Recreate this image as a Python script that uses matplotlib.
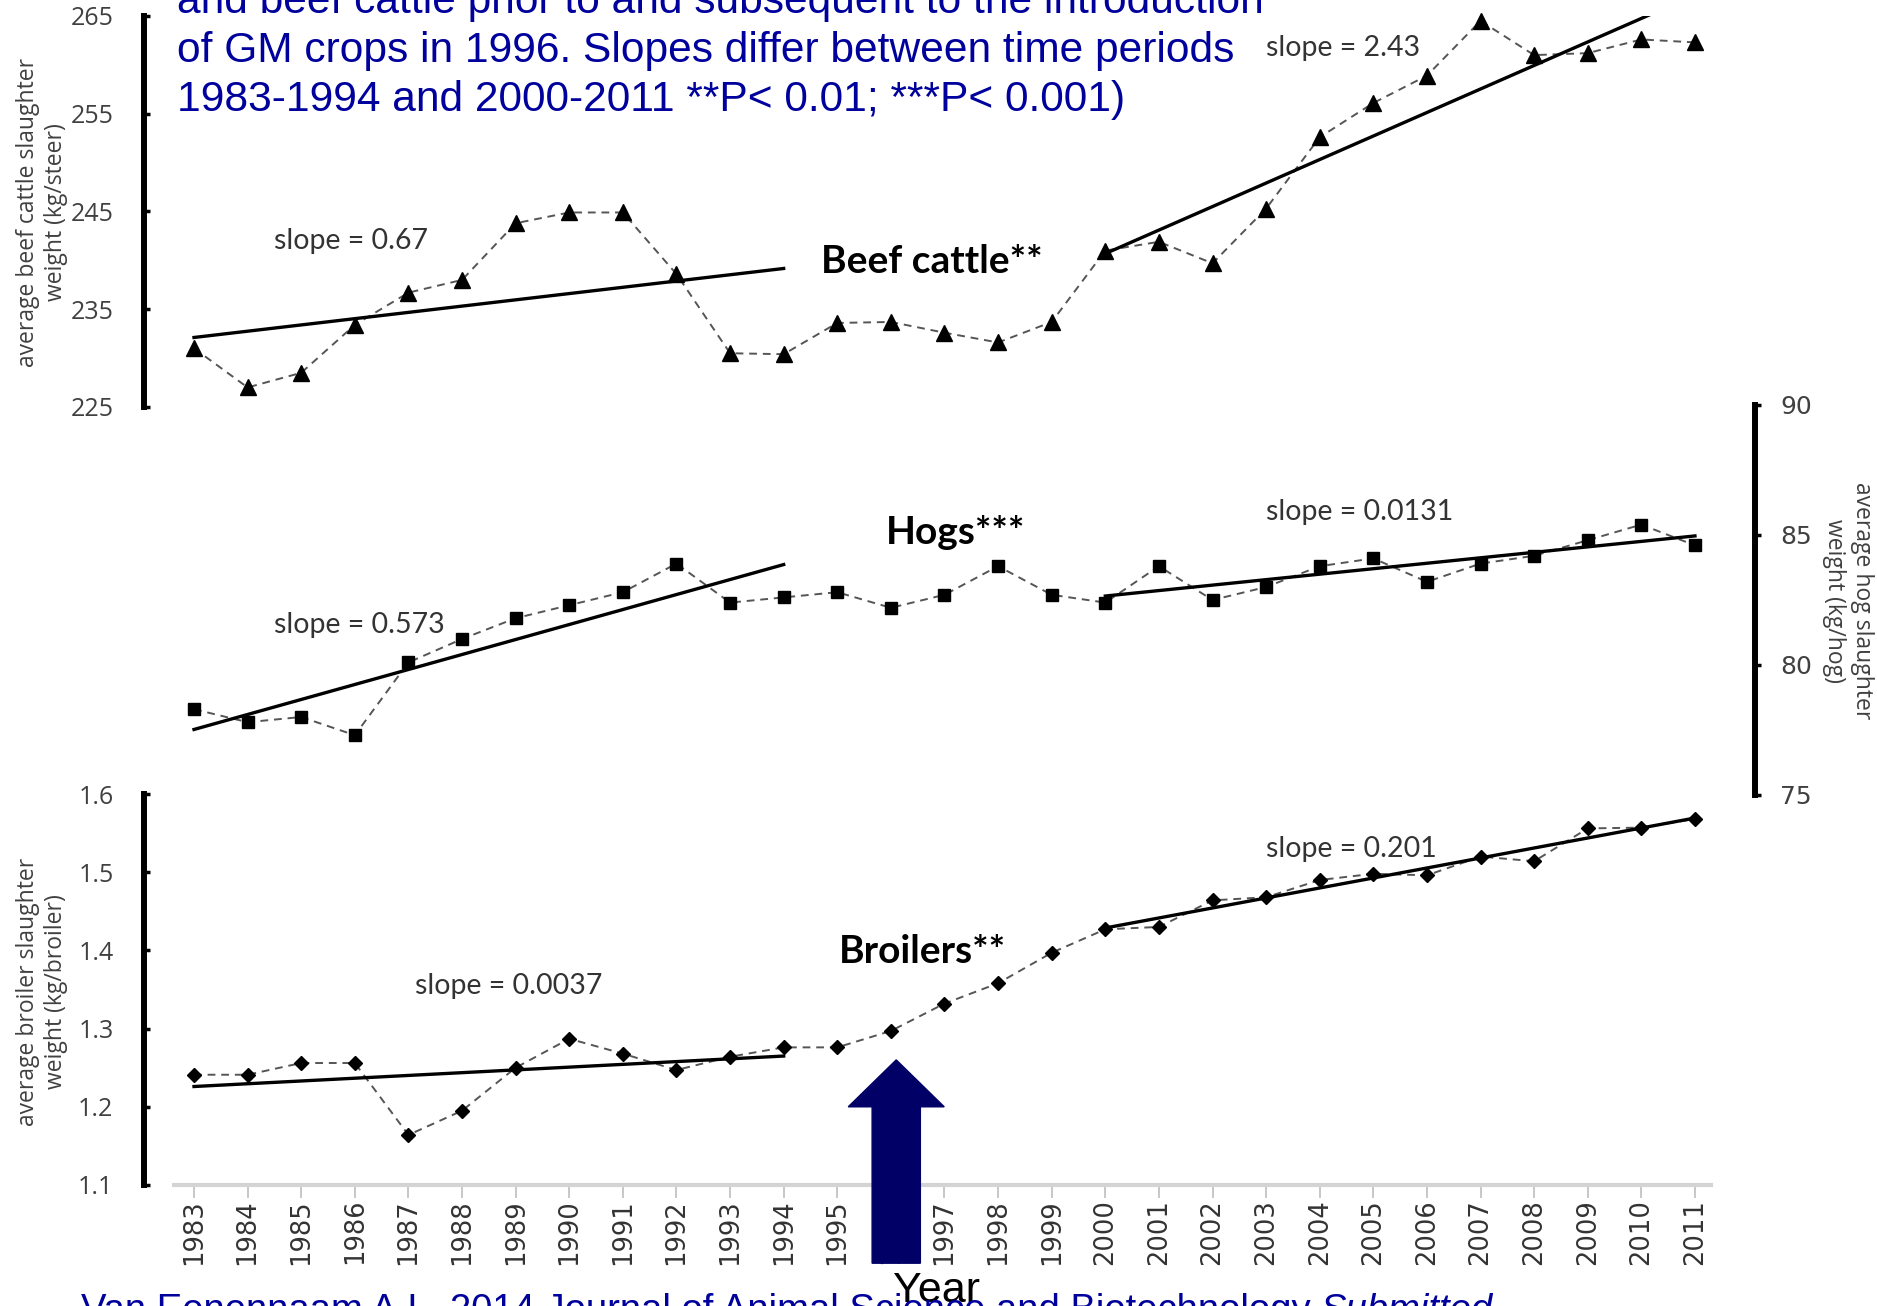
import numpy as np
import matplotlib
matplotlib.use('Agg')
import matplotlib.pyplot as plt
import matplotlib.transforms as mtransforms
from matplotlib.patches import FancyArrow

years = list(range(1983, 2012))
beef = [231.0, 227.0, 228.5, 233.4, 236.7, 238.0, 243.8, 244.9, 244.9, 238.6,
        230.5, 230.4, 233.6, 233.7, 232.6, 231.6, 233.7, 241.0, 241.9, 239.7,
        245.3, 252.6, 256.1, 258.9, 264.5, 261.0, 261.2, 262.6, 262.3]
hogs = [78.3, 77.8, 78.0, 77.3, 80.1, 81.0, 81.8, 82.3, 82.8, 83.9,
        82.4, 82.6, 82.8, 82.2, 82.7, 83.8, 82.7, 82.4, 83.8, 82.5,
        83.0, 83.8, 84.1, 83.2, 83.9, 84.2, 84.8, 85.4, 84.6]
broilers = [1.241, 1.241, 1.256, 1.256, 1.164, 1.195, 1.250, 1.287, 1.268, 1.247,
            1.264, 1.276, 1.276, 1.297, 1.332, 1.358, 1.397, 1.427, 1.430, 1.464,
            1.468, 1.490, 1.498, 1.496, 1.520, 1.514, 1.556, 1.557, 1.568]
periods = [(1983, 1994), (2000, 2011)]

beef_slopes = ['slope = 0.67', 'slope = 2.43']
hog_slopes = ['slope = 0.573', 'slope = 0.0131']
broiler_slopes = ['slope = 0.0037', 'slope = 0.201']

title_lines = ['and beef cattle prior to and subsequent to the introduction',
               'of GM crops in 1996. Slopes differ between time periods',
               '1983-1994 and 2000-2011 **P< 0.01; ***P< 0.001)']
source = 'Van Eenennaam A.L. 2014 Journal of Animal Science and Biotechnology '

NAVY = '#00009c'
TXT = '#404040'
sans = ['Liberation Sans', 'DejaVu Sans']
labfont = ['Open Sans', 'DejaVu Sans']
annfont = ['Lato', 'DejaVu Sans']

fig = plt.figure(figsize=(18.77, 13.06), dpi=100)
L, W = 144 / 1877, 1611 / 1877
ax_b = fig.add_axes([L, 1 - 407 / 1306, W, 391 / 1306])
ax_h = fig.add_axes([L, 1 - 795 / 1306, W, 390 / 1306])
ax_c = fig.add_axes([L, 1 - 1185 / 1306, W, 391 / 1306])


def panel(ax, values, marker, ms, ylim, ticks):
    ax.set_facecolor('none')
    ax.plot(years, values, ls=(0, (4, 3)), color='#555555', lw=1.4, zorder=2)
    ax.plot(years, values, ls='none', marker=marker, ms=ms, color='black',
            clip_on=False, zorder=3)
    # linear trend for each period
    for a, b in periods:
        xs = [y for y in years if a <= y <= b]
        vs = [v for y, v in zip(years, values) if a <= y <= b]
        k, c = np.polyfit(xs, vs, 1)
        ax.plot([a, b], [k * a + c, k * b + c], color='black', lw=2.4, zorder=4)
    ax.set_xlim(1982.067, 2012.12)
    ax.set_ylim(*ylim)
    ax.set_yticks(ticks)
    for s in ax.spines.values():
        s.set_visible(False)
    for lab in ax.get_yticklabels():
        lab.set_family(labfont)


panel(ax_b, beef, '^', 11, (225, 265), [225, 235, 245, 255, 265])
panel(ax_h, hogs, 's', 9, (75, 90), [75, 80, 85, 90])
panel(ax_c, broilers, 'D', 7, (1.1, 1.6), [1.1, 1.2, 1.3, 1.4, 1.5, 1.6])

for ax in (ax_b, ax_c):
    ax.spines['left'].set_visible(True)
    ax.spines['left'].set_linewidth(4.3)
    ax.tick_params(axis='y', direction='in', length=4, width=2.5, pad=22,
                   labelsize=18, labelcolor=TXT)
ax_c.set_yticklabels(['%.1f' % t for t in [1.1, 1.2, 1.3, 1.4, 1.5, 1.6]], family=labfont)

ax_h.yaxis.tick_right()
ax_h.spines['right'].set_visible(True)
ax_h.spines['right'].set_linewidth(4.3)
ax_h.tick_params(axis='y', direction='out', length=4, width=2.5, pad=14,
                 labelsize=18, labelcolor=TXT)

ax_b.set_xticks([])
ax_h.set_xticks([])
ax_c.spines['bottom'].set_visible(True)
ax_c.spines['bottom'].set_color('#d4d4d4')
ax_c.spines['bottom'].set_linewidth(3)
ax_c.spines['bottom'].set_bounds(1982.62, 2011.3)
ax_c.set_xticks(years)
ax_c.set_xticklabels([str(y) for y in years], rotation=90, family='DejaVu Sans')
ax_c.tick_params(axis='x', direction='out', length=9, width=1.2, color='#bdbdbd',
                 labelsize=18.5, labelcolor='#333333', pad=1)

# slope / panel annotations
ann = dict(fontsize=20.5, color='#333333', family=annfont, va='center')
ax_b.text(1984.5, 242.0, beef_slopes[0], **ann)
ax_b.text(2003.0, 261.7, beef_slopes[1], **ann)
ax_h.text(1984.5, 81.55, hog_slopes[0], **ann)
ax_h.text(2003.0, 85.9, hog_slopes[1], **ann)
ax_c.text(1987.13, 1.354, broiler_slopes[0], **ann)
ax_c.text(2003.0, 1.53, broiler_slopes[1], **ann)
bold = dict(fontsize=28, color='black', family=annfont, weight='bold', va='center')
ax_b.text(1994.7, 239.9, 'Beef cattle**', **bold)
ax_h.text(1995.9, 85.08, 'Hogs***', **bold)
ax_c.text(1995.03, 1.398, 'Broilers**', **bold)

# axis labels
lab = dict(ha='center', va='center', fontsize=16.5, color=TXT, family=labfont,
           multialignment='center')
fig.text(42 / 1877, 1 - 212 / 1306, 'average beef cattle slaughter\nweight (kg/steer)',
         rotation=90, **lab)
fig.text(42 / 1877, 1 - 992 / 1306, 'average broiler slaughter\nweight (kg/broiler)',
         rotation=90, **lab)
fig.text(1848 / 1877, 1 - 601 / 1306, 'average hog slaughter\nweight (kg/hog)',
         rotation=270, **lab)

# GM introduction arrow
trans = mtransforms.blended_transform_factory(ax_c.transData, ax_c.transAxes)
arrow = FancyArrow(1996.1, -0.20, 0, 0.52, width=0.9, head_width=1.79, head_length=0.12,
                   length_includes_head=True, transform=trans, color='#000066',
                   clip_on=False, zorder=10)
ax_c.add_patch(arrow)

# titles and footer
for yb, line in zip([13, 62, 111], title_lines):
    fig.text(177 / 1877, 1 - yb / 1306, line, fontsize=30.6, color=NAVY,
             family=sans, va='baseline', ha='left')
fig.text(936 / 1877, 1 - 1302 / 1306, 'Year', fontsize=31, color='black',
         family=sans, va='baseline', ha='center')
foot = fig.text(81 / 1877, 1 - 1293 / 1306, source, fontsize=27.5, color=NAVY,
                family=sans, va='top', ha='left')
fig.canvas.draw()
x_end = foot.get_window_extent().x1 / fig.bbox.width
fig.text(x_end, 1 - 1293 / 1306, 'Submitted', fontsize=27.5, color=NAVY,
         family=sans, style='italic', va='top', ha='left')

fig.savefig('out.png', dpi=100)
